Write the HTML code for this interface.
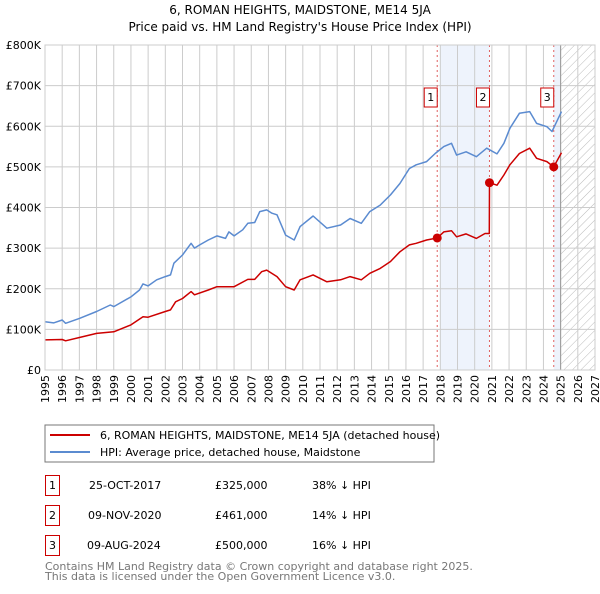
<!DOCTYPE html>
<html><head><meta charset="utf-8"><style>
body{margin:0;background:#fff;width:600px;height:590px;overflow:hidden;font-family:"DejaVu Sans","Liberation Sans",sans-serif;}
svg text{font-family:"DejaVu Sans","Liberation Sans",sans-serif;}
</style></head><body>
<svg id="chart" width="600" height="590" viewBox="0 0 600 590">
<defs><pattern id="hatch" width="6" height="6" patternUnits="userSpaceOnUse" patternTransform="rotate(45)"><line x1="0" y1="0" x2="0" y2="6" stroke="#bbb" stroke-width="1"/></pattern></defs>
<text x="300" y="14" text-anchor="middle" font-size="12">6, ROMAN HEIGHTS, MAIDSTONE, ME14 5JA</text>
<text x="300" y="31" text-anchor="middle" font-size="12">Price paid vs. HM Land Registry's House Price Index (HPI)</text>
<g id="plot"></g>
<rect x="45" y="425" width="389" height="37" fill="#fff" stroke="#777"/>
<line x1="50" y1="435" x2="90" y2="435" stroke="#cc0000" stroke-width="2"/>
<text x="100" y="439" font-size="11">6, ROMAN HEIGHTS, MAIDSTONE, ME14 5JA (detached house)</text>
<line x1="50" y1="452" x2="90" y2="452" stroke="#5b8bd0" stroke-width="2"/>
<text x="100" y="456" font-size="11">HPI: Average price, detached house, Maidstone</text>
<g font-size="11">
<rect x="45.5" y="475.5" width="14" height="20" fill="none" stroke="#cc0000"/><text x="52.5" y="489" text-anchor="middle">1</text>
<text x="89" y="489">25-OCT-2017</text><text x="215" y="489">£325,000</text><text x="312" y="489">38% ↓ HPI</text>
<rect x="45.5" y="505.5" width="14" height="20" fill="none" stroke="#cc0000"/><text x="52.5" y="519" text-anchor="middle">2</text>
<text x="88" y="519">09-NOV-2020</text><text x="215" y="519">£461,000</text><text x="312" y="519">14% ↓ HPI</text>
<rect x="45.5" y="535.5" width="14" height="20" fill="none" stroke="#cc0000"/><text x="52.5" y="549" text-anchor="middle">3</text>
<text x="87" y="549">09-AUG-2024</text><text x="215" y="549">£500,000</text><text x="312" y="549">16% ↓ HPI</text>
</g>
<text x="45" y="570" font-size="11" fill="#777">Contains HM Land Registry data © Crown copyright and database right 2025.</text>
<text x="45" y="580" font-size="11" fill="#777">This data is licensed under the Open Government Licence v3.0.</text>
</svg>
<script>
const yTicks=[0,100,200,300,400,500,600,700,800];
const yTickLabels=["£0","£100K","£200K","£300K","£400K","£500K","£600K","£700K","£800K"];
const years=[1995,1996,1997,1998,1999,2000,2001,2002,2003,2004,2005,2006,2007,2008,2009,2010,2011,2012,2013,2014,2015,2016,2017,2018,2019,2020,2021,2022,2023,2024,2025,2026,2027];
const hpiT=[1995,1995.5,1996,1996.2,1997,1998,1998.8,1999,2000,2000.5,2000.7,2001,2001.5,2002,2002.3,2002.5,2003,2003.5,2003.7,2004,2004.5,2005,2005.5,2005.7,2006,2006.5,2006.8,2007.2,2007.5,2007.9,2008.2,2008.5,2009,2009.5,2009.84,2010.6,2011.4,2012.2,2012.75,2013.4,2013.9,2014.5,2015.1,2015.65,2016.2,2016.6,2017.2,2017.7,2018.2,2018.65,2018.95,2019.5,2020.1,2020.7,2021.3,2021.7,2022.05,2022.6,2023.2,2023.6,2024.2,2024.5,2025.05];
const hpiV=[119,116,123,115,127,144,160,156,180,197,212,207,222,230,234,263,283,312,300,308,320,330,324,340,330,345,361,363,390,394,386,382,332,320,353,379,349,357,373,361,390,406,431,459,496,505,513,533,550,558,529,537,525,546,532,558,595,632,636,607,599,587,636];
const ppT=[1995,1996,1996.2,1997,1998,1999,2000,2000.7,2001,2002,2002.3,2002.6,2003,2003.5,2003.7,2004.5,2005,2006,2006.8,2007.2,2007.6,2007.9,2008.5,2009,2009.5,2009.84,2010.6,2011.4,2012.2,2012.75,2013.4,2013.9,2014.5,2015.1,2015.65,2016.2,2016.6,2017.2,2017.82,2018.2,2018.65,2018.95,2019.5,2020.1,2020.6,2020.85,2020.86,2021.3,2021.7,2022.05,2022.6,2023.2,2023.6,2024.2,2024.6,2025.05];
const ppV=[74,75,72,80,90,94,111,131,130,144,148,168,176,193,185,197,205,205,223,223,242,246,230,205,197,222,234,217,222,230,222,238,250,267,291,308,312,320,325,340,343,328,335,324,336,336,461,455,480,505,533,546,521,513,500,535];
const saleT=[2017.82,2020.86,2024.6];
const saleV=[325,461,500];
const saleLabels=["1","2","3"];
const NS="http://www.w3.org/2000/svg";
const X0=45,X1=595,Y0=370,Y1=45;
function xs(t){return X0+(t-1995)/(2027-1995)*(X1-X0);}
function ys(v){return Y0-v/800*(Y0-Y1);}
function el(tag,attrs,parent){const e=document.createElementNS(NS,tag);for(const k in attrs)e.setAttribute(k,attrs[k]);parent.appendChild(e);return e;}
const g=document.getElementById('plot');
let e;
e=el('rect',{x:xs(2018),y:Y1,width:xs(saleT[1])-xs(2018),height:Y0-Y1,fill:'#eef3fc'},g);


e=el('rect',{x:xs(saleT[2]),y:Y1,width:xs(2025)-xs(saleT[2]),height:Y0-Y1,fill:'#eef3fc'},g);


e=el('rect',{x:xs(2025),y:Y1,width:X1-xs(2025),height:Y0-Y1,fill:'url(#hatch)'},g);


years.forEach(y=>{
 e=el('line',{x1:xs(y),x2:xs(y),y1:Y1,y2:Y0,stroke:'#ccc','stroke-width':1},g);
 
 
 e=el('text',{x:0,y:0,'font-size':11,'text-anchor':'end',transform:`translate(${xs(y)+4},${Y0+5}) rotate(-90)`},g);
 e.textContent=y;
 
 
});
yTicks.forEach((v,i)=>{
 e=el('line',{x1:X0,x2:X1,y1:ys(v),y2:ys(v),stroke:'#ccc','stroke-width':1},g);
 
 
 e=el('text',{x:X0-4,y:ys(v)+4,'font-size':11,'text-anchor':'end'},g);
 e.textContent=yTickLabels[i];
 
 
});
e=el('line',{x1:xs(2025),x2:xs(2025),y1:Y1,y2:Y0,stroke:'#999','stroke-width':1},g);


saleT.forEach((t,i)=>{
 e=el('line',{x1:xs(t),x2:xs(t),y1:Y1,y2:Y0,stroke:'#e06060','stroke-width':1,'stroke-dasharray':'2,3'},g);
 
 
});
function path(T,V,color,name){
 const d=T.map((t,i)=>(i?'L':'M')+xs(t).toFixed(1)+','+ys(V[i]).toFixed(1)).join('');
 const p=el('path',{d:d,fill:'none',stroke:color,'stroke-width':1.5,'stroke-linejoin':'round'},g);
 
 
}
path(hpiT,hpiV,'#5b8bd0','hpi-line');
path(ppT,ppV,'#cc0000','price-paid-line');
saleT.forEach((t,i)=>{
 e=el('circle',{cx:xs(t),cy:ys(saleV[i]),r:4.5,fill:'#cc0000'},g);
 
 
 const bx=xs(t)-7;
 e=el('rect',{x:bx-6,y:88,width:13,height:19,fill:'#fff',stroke:'#cc0000'},g);
 
 
 e=el('text',{x:bx+0.5,y:101,'font-size':11,'text-anchor':'middle'},g);
 e.textContent=saleLabels[i];
 
 
});
e=el('rect',{x:X0,y:Y1,width:X1-X0,height:Y0-Y1,fill:'none',stroke:'#ccc'},g);


</script>
</body></html>
